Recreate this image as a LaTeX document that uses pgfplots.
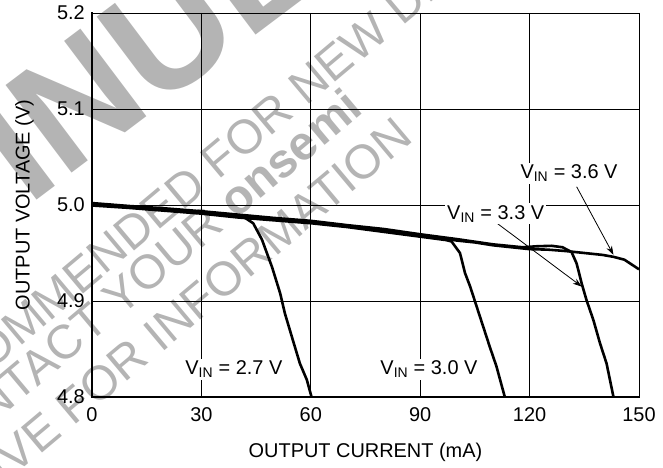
\documentclass[border=0pt]{standalone}
\usepackage{fontspec}
\setmainfont{Liberation Sans}
\usepackage{pgfplots}
\pgfplotsset{compat=1.18}
\usetikzlibrary{arrows.meta}
\definecolor{wm}{RGB}{180,180,180}
\newcommand{\vin}[1]{V\textsubscript{IN} = #1 V}

\begin{document}
\begin{tikzpicture}[x=1bp,y=1bp]
\useasboundingbox (-92,-71) rectangle (571,397);
% watermark, behind the axis
\begin{scope}[wm]
\node[rotate=37, anchor=base east, inner sep=0pt, font=\fontsize{160}{160}\selectfont\bfseries] at (156,356) {DISCONTINU\rlap{ED}};
\node[rotate=40, anchor=base east, inner sep=0pt, font=\fontsize{48}{48}\selectfont] at (300,362) {NOT RECOMMENDED FOR NEW\rlap{ DESIGN}};
\node[rotate=40, anchor=base east, inner sep=0pt, font=\fontsize{48}{48}\selectfont] at (273,285) {CONTACT YOUR \textbf{onsemi}};
\node[rotate=40, anchor=base east, inner sep=0pt, font=\fontsize{48}{48}\selectfont] at (323,257) {REPRESENTATIVE FOR INFORMATION};
\end{scope}
\begin{axis}[
  scale only axis, width=547bp, height=384bp,
  xmin=0, xmax=150, ymin=4.8, ymax=5.2,
  xtick={0,30,...,150}, ytick={4.8,4.9,5.0,5.1,5.2},
  /pgf/number format/assume math mode=true,
  grid=major, major grid style={black, line width=0.8bp},
  axis line style={line width=0.8bp},
  tick style={black, line width=0.8bp}, major tick length=5bp, tick align=inside,
  ticklabel style={font=\fontsize{20}{24}\selectfont, inner sep=0pt},
  xticklabel style={yshift=-10bp},
  yticklabel style={xshift=-7bp, /pgf/number format/fixed, /pgf/number format/fixed zerofill, /pgf/number format/precision=1},
  xlabel={OUTPUT CURRENT (mA)},
  xlabel style={at={(rel axis cs:0.5,0)}, anchor=north, yshift=-46bp, inner sep=0pt, font=\fontsize{20}{24}\selectfont},
  clip=false,
  curve/.style={black, line width=2.6bp, no marks, line join=round},
]
% VIN = 3.6 V
\addplot[curve] coordinates {(0,5.0005) (5,5.0) (10,4.998) (15,4.996) (20,4.995) (25,4.9935) (30,4.992) (35,4.990) (40,4.988) (45,4.9865) (50,4.985) (55,4.9835) (60,4.982) (65,4.980) (70,4.978) (75,4.976) (80,4.9735) (85,4.971) (90,4.968) (95,4.966) (100,4.963) (105,4.961) (110,4.958) (115,4.956) (120,4.954) (125,4.9535) (130,4.952) (135,4.950) (140,4.948) (143,4.946) (146,4.943) (148,4.938) (150,4.933)};
% VIN = 3.3 V
\addplot[curve] coordinates {(0,5.002) (10,4.999) (20,4.9965) (30,4.9935) (40,4.990) (50,4.9865) (60,4.9835) (70,4.979) (80,4.975) (90,4.9695) (100,4.9645) (110,4.959) (118,4.956) (122,4.957) (126,4.9575) (129,4.956) (131.5,4.951) (132.9,4.939) (134.3,4.918) (135.6,4.901) (137.5,4.880) (139.3,4.856) (141.1,4.835) (143,4.8)};
% VIN = 3.0 V
\addplot[curve] coordinates {(0,4.9995) (10,4.997) (20,4.994) (30,4.991) (40,4.987) (50,4.984) (60,4.981) (70,4.977) (80,4.972) (90,4.967) (97,4.9635) (98.6,4.962) (100.9,4.950) (102.3,4.929) (103.7,4.915) (105.5,4.894) (107.3,4.873) (109.1,4.852) (110.9,4.832) (113.2,4.8)};
% VIN = 2.7 V
\addplot[curve] coordinates {(0,5.001) (10,4.9985) (20,4.9955) (30,4.9925) (38,4.9895) (41.4,4.988) (44.2,4.981) (46.6,4.964) (49.4,4.935) (51.6,4.908) (52.9,4.887) (55.1,4.859) (57,4.835) (58.9,4.818) (60.2,4.8)};

\draw[line width=0.8bp, -{Stealth[length=9bp, width=6bp]}] (axis cs:132.9,5.019) -- (axis cs:143.0,4.948);
\draw[line width=0.8bp, -{Stealth[length=9bp, width=6bp]}] (axis cs:110.5,4.9826) -- (axis cs:134.3,4.915);

\tikzset{lab/.style={fill=white, inner sep=2bp, font=\fontsize{20}{24}\selectfont}}
\node[lab] at (axis cs:38.9,4.829) {\vin{2.7}};
\node[lab] at (axis cs:92.4,4.829) {\vin{3.0}};
\node[lab] at (axis cs:110.7,4.991) {\vin{3.3}};
\node[lab] at (axis cs:130.8,5.033) {\vin{3.6}};

\node[rotate=90, anchor=north, inner sep=0pt, font=\fontsize{20}{24}\selectfont] at ([xshift=-77bp]rel axis cs:0,0.5) {OUTPUT VOLTAGE (V)};
\draw[line width=2bp, line cap=rect] (rel axis cs:0,1) -- (rel axis cs:0,0) -- (rel axis cs:1,0);
\end{axis}
\end{tikzpicture}
\end{document}
